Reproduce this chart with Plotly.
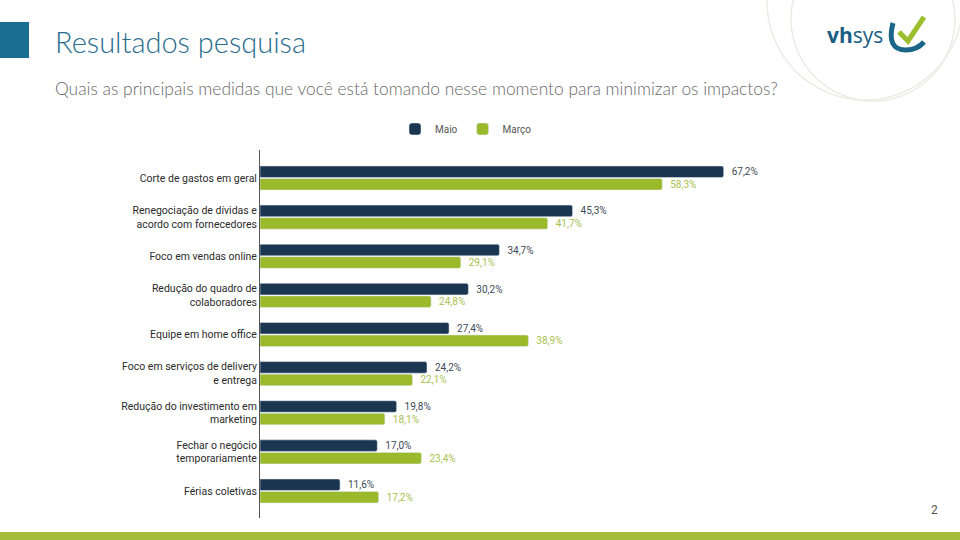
import plotly.graph_objects as go

# dados da pesquisa
categorias = [
    "Corte de gastos em geral",
    "Renegociação de dívidas e<br>acordo com fornecedores",
    "Foco em vendas online",
    "Redução do quadro de<br>colaboradores",
    "Equipe em home office",
    "Foco em serviços de delivery<br>e entrega",
    "Redução do investimento em<br>marketing",
    "Fechar o negócio<br>temporariamente",
    "Férias coletivas",
]
maio = [67.2, 45.3, 34.7, 30.2, 27.4, 24.2, 19.8, 17.0, 11.6]
marco = [58.3, 41.7, 29.1, 24.8, 38.9, 22.1, 18.1, 23.4, 17.2]

W, H = 960, 540
AZUL = "#1b3650"
VERDE = "#9aba2c"


def px(x):
    return x / W


def py(y):
    return 1 - y / H


fig = go.Figure()
fig.add_trace(go.Bar(
    y=categorias, x=maio, name="Maio", orientation="h",
    marker=dict(color=AZUL, cornerradius=2),
    texttemplate="\u00a0\u00a0%{x:.1f}%", textposition="outside",
    outsidetextfont=dict(color="#3d4a56", size=10, family="Roboto"),
    cliponaxis=False, hoverinfo="skip",
))
fig.add_trace(go.Bar(
    y=categorias, x=marco, name="Março", orientation="h",
    marker=dict(color=VERDE, cornerradius=2),
    texttemplate="\u00a0\u00a0%{x:.1f}%", textposition="outside",
    outsidetextfont=dict(color="#a9c150", size=10, family="Roboto"),
    cliponaxis=False, hoverinfo="skip",
))

shapes = [
    # quadrado do titulo
    dict(type="rect", xref="paper", yref="paper", x0=px(0), x1=px(29),
         y0=py(58), y1=py(22), fillcolor="#1a6e92", line=dict(width=0)),
    # faixa verde inferior
    dict(type="rect", xref="paper", yref="paper", x0=0, x1=1,
         y0=0, y1=py(532), fillcolor="#a6bd3a", line=dict(width=0)),
    # arcos decorativos
    dict(type="circle", xref="paper", yref="paper", x0=px(767), x1=px(963),
         y0=py(100), y1=py(-96), line=dict(color="#ececE4", width=1.5), layer="below"),
    dict(type="circle", xref="paper", yref="paper", x0=px(791), x1=px(955),
         y0=py(101), y1=py(-63), line=dict(color="#ececE4", width=1.5), layer="below"),
    # logo
    dict(type="path", xref="paper", yref="paper",
         path="M %f %f Q %f %f %f %f Q %f %f %f %f" % (
             px(893), py(23), px(886), py(50), px(906), py(50),
             px(917), py(50), px(924), py(42)),
         line=dict(color="#1b6688", width=5)),
    dict(type="path", xref="paper", yref="paper",
         path="M %f %f L %f %f L %f %f" % (
             px(899), py(32), px(908), py(41), px(924), py(17)),
         line=dict(color="#9cbf2e", width=5)),
]

annotations = [
    dict(text="Resultados pesquisa", x=px(53), y=py(41), xref="paper", yref="paper",
         xanchor="left", yanchor="middle", showarrow=False,
         font=dict(family="Lato", size=29, color="#2b6d8d", weight=300)),
    dict(text="Quais as principais medidas que você está tomando nesse momento para minimizar os impactos?",
         x=px(53), y=py(89), xref="paper", yref="paper",
         xanchor="left", yanchor="middle", showarrow=False,
         font=dict(family="Lato", size=17.4, color="#6a6a6a", weight=300)),
    dict(text="<b>vh</b>sys", x=px(825), y=py(35), xref="paper", yref="paper",
         xanchor="left", yanchor="middle", showarrow=False,
         font=dict(family="Open Sans", size=21, color="#1b5e84")),
    dict(text="2", x=px(934), y=py(510), xref="paper", yref="paper",
         xanchor="center", yanchor="middle", showarrow=False,
         font=dict(family="Roboto", size=12, color="#555555")),
]

fig.update_layout(
    width=W, height=H,
    margin=dict(l=0, r=0, t=0, b=0),
    paper_bgcolor="white", plot_bgcolor="white",
    barmode="group", bargap=0.36, bargroupgap=0.08,
    separators=",.",
    font=dict(family="Roboto", size=10, color="#333333"),
    legend=dict(orientation="h", x=px(466), xanchor="center", y=py(129), yanchor="middle",
                font=dict(size=10, color="#555555", family="Roboto"),
                itemclick=False, traceorder="normal"),
    xaxis=dict(domain=[px(260), px(812)], range=[0, 80], visible=False, fixedrange=True),
    yaxis=dict(domain=[py(518), py(150)], range=[8.69, -0.716], showline=True,
               linecolor="#555555", linewidth=1, showgrid=False, zeroline=False,
               ticks="", tickfont=dict(size=10.5, color="#2b2b2b", family="Roboto"),
               automargin=False, fixedrange=True),
    shapes=shapes,
    annotations=annotations,
    showlegend=True,
)

# tira a margem padrao do body para a figura ocupar a janela toda
fig.write_html("out.html", config={"displayModeBar": False},
               post_script="document.body.style.margin='0';")
